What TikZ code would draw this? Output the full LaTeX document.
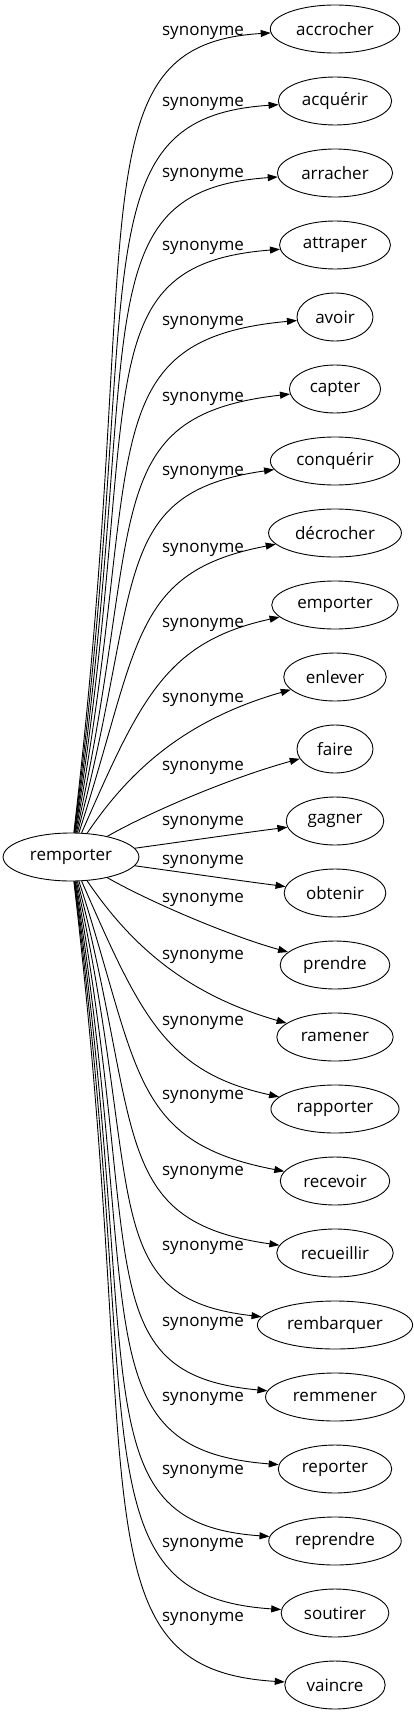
\documentclass[tikz,border=0pt]{standalone}
\usepackage{fontspec}
\setmainfont{Open Sans}
\usetikzlibrary{shapes.geometric,arrows.meta}

\begin{document}
\begin{tikzpicture}[x=1pt,y=-1pt]
    \tikzstyle{every node}+=[inner sep=0pt, font=\fontsize{17pt}{20pt}\selectfont]
    \tikzstyle{word}=[draw, ellipse, line width=0.9pt, inner xsep=7pt, inner ysep=2pt, minimum height=48pt, minimum width=76pt]
    \tikzstyle{syn}=[line width=0.9pt, -{Triangle[length=10pt,width=7pt]}]
    \useasboundingbox (0,0) rectangle (414,1715);
    \node [word] (remporter) at (71,857) {remporter};
    \node [word] (accrocher) at (335,29) {accrocher};
    \node [word] (acquerir) at (335,101) {acquérir};
    \node [word] (arracher) at (335,173) {arracher};
    \node [word] (attraper) at (335,245) {attraper};
    \node [word] (avoir) at (335,317) {avoir};
    \node [word] (capter) at (335,389) {capter};
    \node [word] (conquerir) at (335,461) {conquérir};
    \node [word] (decrocher) at (335,533) {décrocher};
    \node [word] (emporter) at (335,605) {emporter};
    \node [word] (enlever) at (335,677) {enlever};
    \node [word] (faire) at (335,749) {faire};
    \node [word] (gagner) at (335,821) {gagner};
    \node [word] (obtenir) at (335,893) {obtenir};
    \node [word] (prendre) at (335,965) {prendre};
    \node [word] (ramener) at (335,1037) {ramener};
    \node [word] (rapporter) at (335,1109) {rapporter};
    \node [word] (recevoir) at (335,1181) {recevoir};
    \node [word] (recueillir) at (335,1253) {recueillir};
    \node [word] (rembarquer) at (335,1325) {rembarquer};
    \node [word] (remmener) at (335,1397) {remmener};
    \node [word] (reporter) at (335,1469) {reporter};
    \node [word] (reprendre) at (335,1541) {reprendre};
    \node [word] (soutirer) at (335,1613) {soutirer};
    \node [word] (vaincre) at (335,1685) {vaincre};
    \draw [syn] (remporter) .. controls (145,225) and (72,45) .. (accrocher);
    \node (s1) at (203,33) {synonyme};
    \draw [syn] (remporter) .. controls (145,285) and (74,118) .. (acquerir);
    \node (s2) at (203,104) {synonyme};
    \draw [syn] (remporter) .. controls (145,343) and (76,191) .. (arracher);
    \node (s3) at (203,175) {synonyme};
    \draw [syn] (remporter) .. controls (145,400) and (78,265) .. (attraper);
    \node (s4) at (203,248) {synonyme};
    \draw [syn] (remporter) .. controls (145,460) and (85,340) .. (avoir);
    \node (s5) at (203,323) {synonyme};
    \draw [syn] (remporter) .. controls (145,522) and (95,416) .. (capter);
    \node (s6) at (203,399) {synonyme};
    \draw [syn] (remporter) .. controls (143,585) and (108,493) .. (conquerir);
    \node (s7) at (203,473) {synonyme};
    \draw [syn] (remporter) .. controls (140,645) and (130,572) .. (decrocher);
    \node (s8) at (203,550) {synonyme};
    \draw [syn] (remporter) .. controls (140,700) and (165,642) .. (emporter);
    \node (s9) at (203,625) {synonyme};
    \draw [syn] (remporter) .. controls (130,770) and (185,720) .. (enlever);
    \node (s10) at (203,700) {synonyme};
    \draw [syn] (remporter) .. controls (150,812) and (230,778) .. (faire);
    \node (s11) at (203,768) {synonyme};
    \draw [syn] (remporter) .. controls (180,842) and (235,834) .. (gagner);
    \node (s12) at (203,823) {synonyme};
    \draw [syn] (remporter) .. controls (180,872) and (235,880) .. (obtenir);
    \node (s13) at (203,862) {synonyme};
    \draw [syn] (remporter) .. controls (150,902) and (230,936) .. (prendre);
    \node (s14) at (203,900) {synonyme};
    \draw [syn] (remporter) .. controls (130,944) and (185,994) .. (ramener);
    \node (s15) at (203,957) {synonyme};
    \draw [syn] (remporter) .. controls (140,1014) and (165,1072) .. (rapporter);
    \node (s16) at (203,1023) {synonyme};
    \draw [syn] (remporter) .. controls (140,1069) and (130,1142) .. (recevoir);
    \node (s17) at (203,1097) {synonyme};
    \draw [syn] (remporter) .. controls (143,1129) and (108,1221) .. (recueillir);
    \node (s18) at (203,1173) {synonyme};
    \draw [syn] (remporter) .. controls (145,1192) and (95,1298) .. (rembarquer);
    \node (s19) at (203,1248) {synonyme};
    \draw [syn] (remporter) .. controls (145,1254) and (85,1374) .. (remmener);
    \node (s20) at (203,1324) {synonyme};
    \draw [syn] (remporter) .. controls (145,1314) and (78,1449) .. (reporter);
    \node (s21) at (203,1399) {synonyme};
    \draw [syn] (remporter) .. controls (145,1371) and (76,1523) .. (reprendre);
    \node (s22) at (203,1472) {synonyme};
    \draw [syn] (remporter) .. controls (145,1429) and (74,1596) .. (soutirer);
    \node (s23) at (203,1545) {synonyme};
    \draw [syn] (remporter) .. controls (145,1489) and (72,1669) .. (vaincre);
    \node (s24) at (203,1619) {synonyme};
\end{tikzpicture}
\end{document}
